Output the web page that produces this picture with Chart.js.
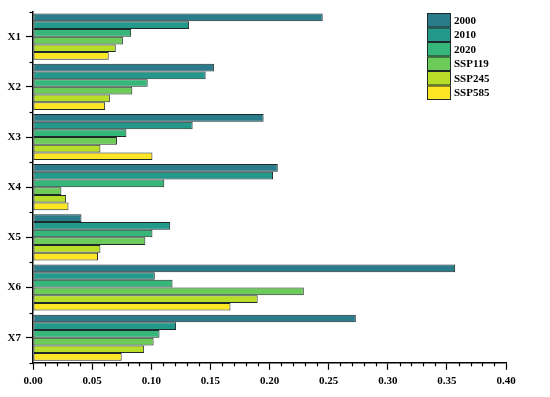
<!DOCTYPE html>
<html>
<head>
<meta charset="utf-8">
<script src="https://cdn.jsdelivr.net/npm/chart.js@4"></script>
<style>
  html, body { margin: 0; padding: 0; background: #fff; }
  #box { width: 550px; height: 397px; }
</style>
</head>
<body>
<div id="box"><canvas id="myChart"></canvas></div>
<script>
// categorias del eje y
const categories = ['X1', 'X2', 'X3', 'X4', 'X5', 'X6', 'X7'];
// series
const seriesNames = ['2000', '2010', '2020', 'SSP119', 'SSP245', 'SSP585'];
const v2000   = [0.245, 0.153, 0.195, 0.207, 0.041, 0.357, 0.273];
const v2010   = [0.132, 0.146, 0.135, 0.203, 0.116, 0.103, 0.121];
const v2020   = [0.083, 0.097, 0.079, 0.111, 0.101, 0.118, 0.107];
const vSSP119 = [0.076, 0.084, 0.071, 0.024, 0.095, 0.229, 0.102];
const vSSP245 = [0.070, 0.065, 0.057, 0.028, 0.057, 0.190, 0.094];
const vSSP585 = [0.064, 0.061, 0.101, 0.030, 0.055, 0.167, 0.075];
const xTicks  = [0.00, 0.05, 0.10, 0.15, 0.20, 0.25, 0.30, 0.35, 0.40];

const colors = ['#2b7c8b', '#22998b', '#37b679', '#6dcb59', '#b8de29', '#fde725'];
const values = [v2000, v2010, v2020, vSSP119, vSSP245, vSSP585];
const font = { family: '"Liberation Serif", "Times New Roman", serif', weight: 'bold' };

const datasets = seriesNames.map((name, i) => ({
    label: name,
    data: values[i],
    backgroundColor: colors[i],
    borderColor: '#1e2a2a',
    borderWidth: 1,
    borderSkipped: false,
    categoryPercentage: 0.92,
    barPercentage: 1.0
}));

// ticks menores y leyenda dibujados a mano
const extras = {
    id: 'extras',
    afterDraw(chart) {
        const c = chart.ctx;
        const x = chart.scales.x, y = chart.scales.y;
        c.save();
        c.strokeStyle = '#000';
        c.lineWidth = 1.2;
        // ticks menores del eje x cada 0.01
        for (let k = 0; k <= 40; k++) {
            if (k % 5 === 0) continue;
            const px = Math.round(x.getPixelForValue(k / 100)) + 0.5;
            c.beginPath();
            c.moveTo(px, x.top);
            c.lineTo(px, x.top + 3.5);
            c.stroke();
        }
        // ticks en los limites de categoria del eje y
        for (let k = 0; k <= categories.length; k++) {
            const py = Math.round(y.getPixelForValue(k - 0.5)) + 0.5;
            c.beginPath();
            c.moveTo(y.right, py);
            c.lineTo(y.right - 3.5, py);
            c.stroke();
        }
        // leyenda
        const lx = 427, ly = 13, bw = 24, bh = 14.5;
        c.font = 'bold 11px "Liberation Serif", serif';
        c.textBaseline = 'middle';
        c.lineWidth = 1;
        seriesNames.forEach((name, i) => {
            const top = ly + i * bh;
            c.fillStyle = colors[i];
            c.fillRect(lx, top, bw, bh);
            c.strokeStyle = '#1e2a2a';
            c.strokeRect(lx + 0.5, top + 0.5, bw - 1, bh - 1);
            c.fillStyle = '#000';
            c.fillText(name, lx + bw + 3, top + bh / 2 + 0.5);
        });
        c.restore();
    }
};

const config = {
    type: 'bar',
    data: { labels: categories, datasets: datasets },
    options: {
        indexAxis: 'y',
        responsive: true,
        maintainAspectRatio: false,
        animation: false,
        layout: { padding: { top: 11, right: 44, left: 0, bottom: 4 } },
        plugins: { legend: { display: false }, tooltip: { enabled: false } },
        scales: {
            x: {
                min: 0,
                max: 0.4,
                afterBuildTicks: (s) => { s.ticks = xTicks.map(v => ({ value: v })); },
                ticks: {
                    color: '#000',
                    font: { ...font, size: 11 },
                    padding: 5,
                    callback: (v) => Number(v).toFixed(2)
                },
                grid: { drawOnChartArea: false, tickLength: 7, tickColor: '#000', tickWidth: 1.2 },
                border: { display: true, color: '#000', width: 1.5 }
            },
            y: {
                afterFit: (s) => { s.width = 33; },
                ticks: { color: '#000', font: { ...font, size: 11 }, padding: 5 },
                grid: { drawOnChartArea: false, offset: false, tickLength: 7, tickColor: '#000', tickWidth: 1.2 },
                border: { display: true, color: '#000', width: 1.5 }
            }
        }
    },
    plugins: [extras]
};
new Chart(document.getElementById('myChart'), config);
</script>
</body>
</html>
